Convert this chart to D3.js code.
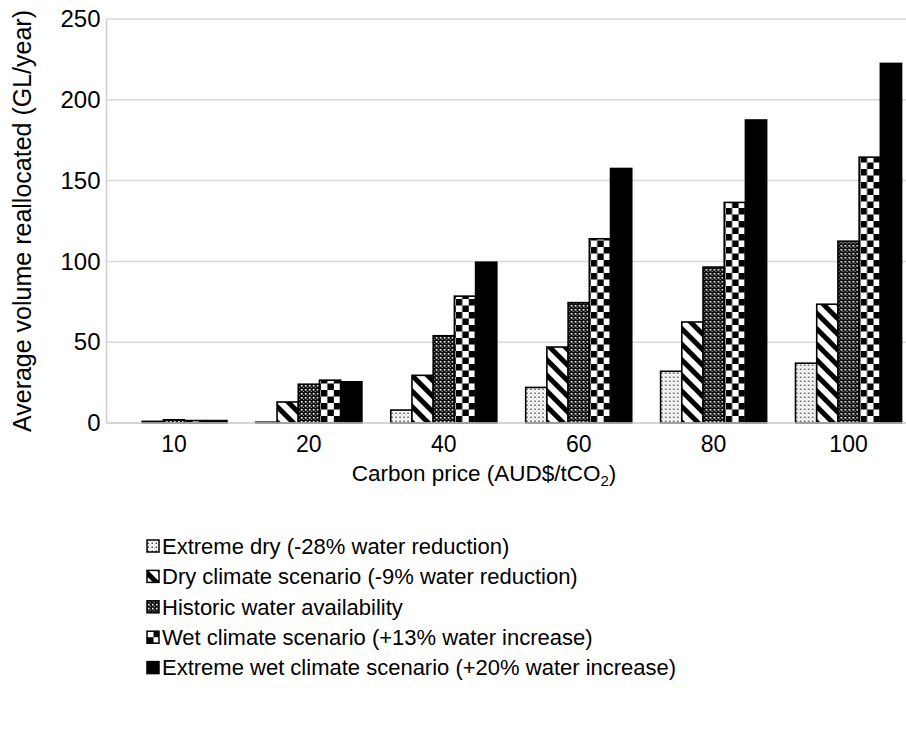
<!DOCTYPE html>
<html>
<head>
<meta charset="utf-8">
<script src="https://cdn.jsdelivr.net/npm/d3@7/dist/d3.min.js"></script>
<style>
  html, body { margin: 0; padding: 0; background: #fff; }
  svg { display: block; font-family: "Liberation Sans", Arial, sans-serif; }
</style>
</head>
<body>
<svg id="chart" width="906" height="738"></svg>
<script>
// ---- data ----
const categories = ["10", "20", "40", "60", "80", "100"];
const seriesNames = [
  "Extreme dry (-28% water reduction)",
  "Dry climate scenario (-9% water reduction)",
  "Historic water availability",
  "Wet climate scenario (+13% water increase)",
  "Extreme wet climate scenario (+20% water increase)"
];
const extremeDry = [0, 0.5, 8, 22, 32, 37];
const dryClimate = [1, 13, 29.5, 47, 62.5, 73.5];
const historic   = [2, 24, 54, 74.5, 96.5, 112.5];
const wetClimate = [1.5, 26.5, 78.5, 114, 136.5, 164.5];
const extremeWet = [1.5, 25.5, 99.5, 157.5, 187.5, 222.5];
const yTicks = [0, 50, 100, 150, 200, 250];

const seriesValues = [extremeDry, dryClimate, historic, wetClimate, extremeWet];
const patternIds = ["pDots", "pDiag", "pDense", "pCheck", "pSolid"];

const svg = d3.select("#chart");
const margin = { left: 106.5, top: 19, bottom: 423 };
const plotRight = 916;

// ---- patterns ----
const defs = svg.append("defs");
let p = defs.append("pattern").attr("id", "pDots").attr("patternUnits", "userSpaceOnUse")
  .attr("width", 4).attr("height", 4);
p.append("rect").attr("width", 4).attr("height", 4).attr("fill", "#fff");
p.append("rect").attr("x", 0.5).attr("y", 0.5).attr("width", 1.5).attr("height", 1.5).attr("fill", "#444");
p.append("rect").attr("x", 2.5).attr("y", 2.5).attr("width", 1).attr("height", 1).attr("fill", "#999");

p = defs.append("pattern").attr("id", "pDiag").attr("patternUnits", "userSpaceOnUse")
  .attr("width", 11).attr("height", 11).attr("patternTransform", "rotate(-45)");
p.append("rect").attr("width", 11).attr("height", 11).attr("fill", "#fff");
p.append("rect").attr("width", 5).attr("height", 11).attr("fill", "#000");

p = defs.append("pattern").attr("id", "pDense").attr("patternUnits", "userSpaceOnUse")
  .attr("width", 4).attr("height", 4);
p.append("rect").attr("width", 4).attr("height", 4).attr("fill", "#111");
p.append("rect").attr("x", 1).attr("y", 1).attr("width", 1.6).attr("height", 1.6).attr("fill", "#fff");
p.append("rect").attr("x", 3).attr("y", 3).attr("width", 1).attr("height", 1).attr("fill", "#aaa");

p = defs.append("pattern").attr("id", "pCheck").attr("patternUnits", "userSpaceOnUse")
  .attr("width", 13).attr("height", 13);
p.append("rect").attr("width", 13).attr("height", 13).attr("fill", "#fff");
p.append("rect").attr("width", 6.5).attr("height", 6.5).attr("fill", "#000");
p.append("rect").attr("x", 6.5).attr("y", 6.5).attr("width", 6.5).attr("height", 6.5).attr("fill", "#000");

p = defs.append("pattern").attr("id", "pSolid").attr("patternUnits", "userSpaceOnUse")
  .attr("width", 4).attr("height", 4);
p.append("rect").attr("width", 4).attr("height", 4).attr("fill", "#000");

// ---- scales ----
const x0 = d3.scaleBand().domain(categories).range([margin.left, plotRight])
  .paddingInner(0.214).paddingOuter(0.107);
const x1 = d3.scaleBand().domain(d3.range(seriesValues.length)).range([0, x0.bandwidth()]);
const y = d3.scaleLinear().domain([0, 250]).range([margin.bottom, margin.top]);

// ---- gridlines ----
svg.append("g").selectAll("line").data(yTicks.filter(d => d > 0)).join("line")
  .attr("x1", margin.left).attr("x2", 906)
  .attr("y1", d => y(d)).attr("y2", d => y(d))
  .attr("stroke", "#d9d9d9").attr("stroke-width", 1.5);

svg.append("line").attr("x1", margin.left).attr("x2", margin.left)
  .attr("y1", margin.top).attr("y2", margin.bottom)
  .attr("stroke", "#d0d0d0").attr("stroke-width", 1.5);

// ---- bars ----
const groups = svg.append("g").selectAll("g").data(categories).join("g")
  .attr("transform", d => `translate(${x0(d)},0)`);
groups.selectAll("rect")
  .data((c, ci) => seriesValues.map((vals, si) => ({ si, v: vals[ci] })))
  .join("rect")
  .filter(d => d.v > 0)
  .attr("x", d => x1(d.si))
  .attr("width", x1.bandwidth())
  .attr("y", d => y(d.v))
  .attr("height", d => y(0) - y(d.v))
  .attr("fill", d => `url(#${patternIds[d.si]})`)
  .attr("stroke", "#000").attr("stroke-width", 1.6);

svg.append("line").attr("x1", margin.left).attr("x2", 906)
  .attr("y1", margin.bottom).attr("y2", margin.bottom)
  .attr("stroke", "#c8c8c8").attr("stroke-width", 1.5);

// ---- axes labels ----
const yAxis = d3.axisLeft(y).tickValues(yTicks).tickSize(0).tickPadding(6);
const gy = svg.append("g").attr("transform", `translate(${margin.left},0)`).call(yAxis);
gy.select(".domain").remove();
gy.selectAll("text").attr("font-size", 24).attr("fill", "#000")
  .attr("font-family", "Liberation Sans, Arial, sans-serif");

const xAxis = d3.axisBottom(x0).tickSize(0).tickPadding(13);
const gx = svg.append("g").attr("transform", `translate(0,${margin.bottom})`).call(xAxis);
gx.select(".domain").remove();
gx.selectAll("text").attr("font-size", 23).attr("fill", "#000")
  .attr("font-family", "Liberation Sans, Arial, sans-serif");

// x title
const xt = svg.append("text").attr("x", 484).attr("y", 481)
  .attr("text-anchor", "middle").attr("font-size", 22.5).attr("fill", "#000");
xt.append("tspan").text("Carbon price (AUD$/tCO");
xt.append("tspan").attr("font-size", 15).attr("dy", 5).text("2");
xt.append("tspan").attr("dy", -5).text(")");

// y title
svg.append("text")
  .attr("transform", `translate(31,${(margin.top + margin.bottom) / 2}) rotate(-90)`)
  .attr("text-anchor", "middle").attr("font-size", 25).attr("fill", "#000")
  .text("Average volume reallocated (GL/year)");

// ---- legend ----
const legend = svg.append("g").selectAll("g").data(seriesNames).join("g")
  .attr("transform", (d, i) => `translate(147,${546 + i * 30.4})`);
legend.append("rect").attr("x", 0).attr("y", -6).attr("width", 12).attr("height", 12)
  .attr("fill", (d, i) => `url(#${patternIds[i]})`).attr("stroke", "#000").attr("stroke-width", 1.5);
legend.append("text").attr("x", 15).attr("y", 0).attr("dy", "0.35em")
  .attr("font-size", 22).attr("fill", "#000").text(d => d);
</script>
</body>
</html>
